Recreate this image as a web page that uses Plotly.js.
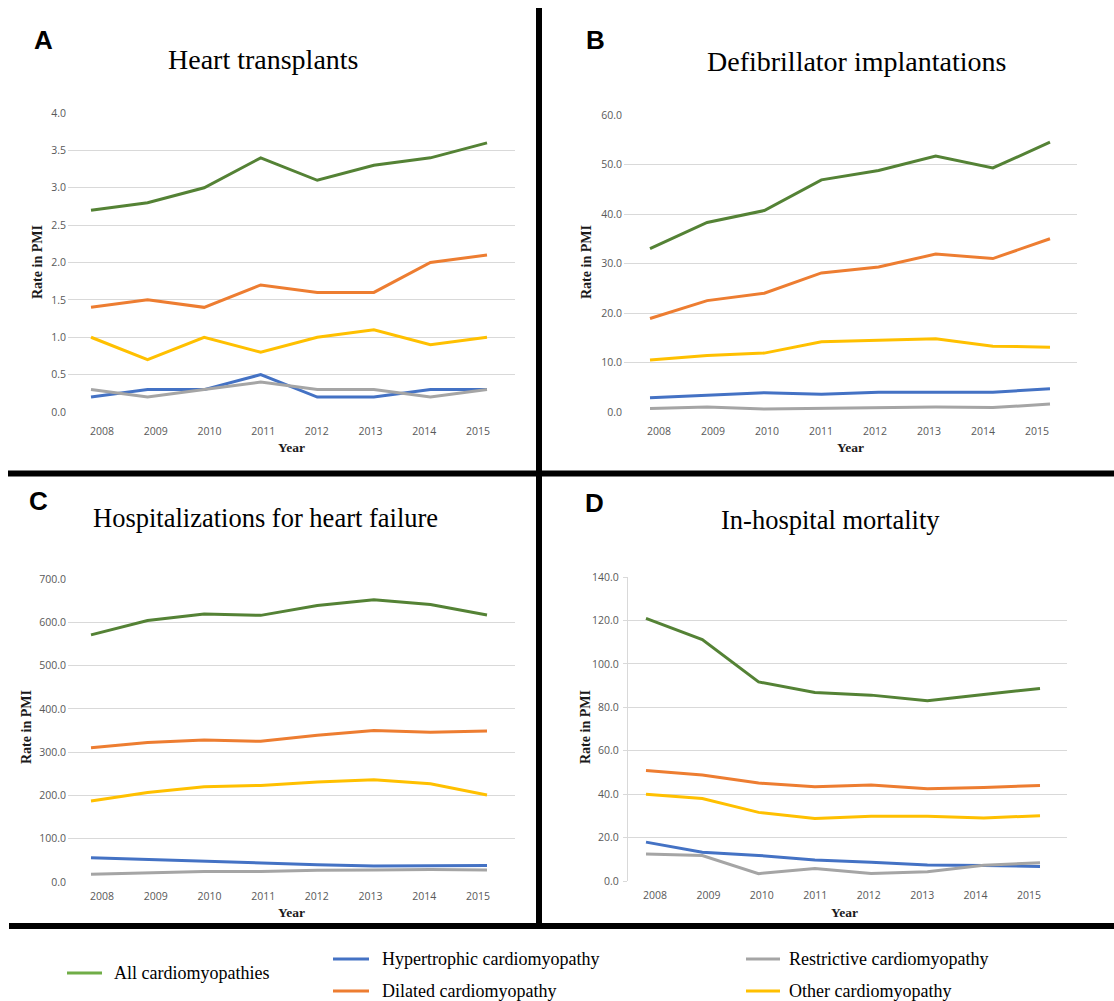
<!DOCTYPE html>
<html><head><meta charset="utf-8">
<script src="https://cdn.plot.ly/plotly-3.0.1.min.js"></script>
<style>html,body{margin:0;padding:0;background:#fff;overflow:hidden;} #chart{width:1114px;height:1001px;}</style>
</head><body><div id="chart"></div>
<script>
// ---------- DATA ----------
const years = [2008, 2009, 2010, 2011, 2012, 2013, 2014, 2015];
const yearLabels = ['2008', '2009', '2010', '2011', '2012', '2013', '2014', '2015'];
const seriesNames = ['All cardiomyopathies', 'Hypertrophic cardiomyopathy', 'Dilated cardiomyopathy', 'Restrictive cardiomyopathy', 'Other cardiomyopathy'];
const panelTitles = ['Heart transplants', 'Defibrillator implantations', 'Hospitalizations for heart failure', 'In-hospital mortality'];
const panelLetters = ['A', 'B', 'C', 'D'];

// A: Heart transplants
const transplantAll = [2.7, 2.8, 3.0, 3.4, 3.1, 3.3, 3.4, 3.6];
const transplantHyp = [0.2, 0.3, 0.3, 0.5, 0.2, 0.2, 0.3, 0.3];
const transplantDil = [1.4, 1.5, 1.4, 1.7, 1.6, 1.6, 2.0, 2.1];
const transplantRes = [0.3, 0.2, 0.3, 0.4, 0.3, 0.3, 0.2, 0.3];
const transplantOth = [1.0, 0.7, 1.0, 0.8, 1.0, 1.1, 0.9, 1.0];
// B: Defibrillator implantations
const defibAll = [33.0, 38.3, 40.7, 46.9, 48.8, 51.7, 49.3, 54.5];
const defibHyp = [2.9, 3.4, 3.9, 3.6, 4.0, 4.0, 4.0, 4.7];
const defibDil = [18.9, 22.5, 24.0, 28.1, 29.3, 31.9, 31.0, 35.0];
const defibRes = [0.7, 1.0, 0.6, 0.7, 0.9, 1.0, 0.9, 1.6];
const defibOth = [10.5, 11.4, 11.9, 14.2, 14.5, 14.8, 13.3, 13.1];
// C: Hospitalizations for heart failure
const hospAll = [571, 604, 619, 616, 639, 652, 641, 617];
const hospHyp = [56, 52, 47, 43, 40, 37, 37, 38];
const hospDil = [310, 322, 328, 325, 339, 350, 346, 349];
const hospRes = [18, 21, 24, 24, 27, 28, 29, 28];
const hospOth = [187, 207, 220, 223, 231, 236, 227, 201];
// D: In-hospital mortality
const mortAll = [120.9, 111.2, 91.7, 86.8, 85.6, 83.0, 85.9, 88.7];
const mortHyp = [17.9, 13.2, 11.8, 9.7, 8.6, 7.4, 7.1, 6.7];
const mortDil = [50.9, 48.8, 45.1, 43.4, 44.2, 42.5, 43.1, 44.0];
const mortRes = [12.4, 11.7, 3.4, 5.8, 3.5, 4.3, 7.2, 8.4];
const mortOth = [40.0, 38.0, 31.6, 28.8, 29.8, 29.8, 29.0, 30.1];

const panelSeries = [
  [transplantAll, transplantHyp, transplantDil, transplantRes, transplantOth],
  [defibAll, defibHyp, defibDil, defibRes, defibOth],
  [hospAll, hospHyp, hospDil, hospRes, hospOth],
  [mortAll, mortHyp, mortDil, mortRes, mortOth]
];
const yMax = [4, 60, 700, 140];
const yStep = [0.5, 10, 100, 20];

// ---------- STYLE / GEOMETRY ----------
const W = 1114, H = 1001;
const px = v => v / W;
const py = v => 1 - v / H;
const colors = ['#548235', '#4472c4', '#ed7d31', '#a5a5a5', '#ffc000'];
const keyColors = ['#70ad47', '#4472c4', '#ed7d31', '#a5a5a5', '#ffc000'];
const serif = 'Liberation Serif, Times New Roman, serif';
const sans = 'Open Sans, Noto Sans, sans-serif';

// per panel pixel geometry: plot left/right, top/bottom, first/last data x, first/last label x
const geo = [
  {l: 68, r: 515, t: 113, b: 412, d0: 91, d1: 487, t0: 102, t1: 478, std: 11},
  {l: 624, r: 1077, t: 115, b: 412, d0: 650, d1: 1050, t0: 659, t1: 1037, std: 11},
  {l: 68, r: 515, t: 579, b: 882, d0: 91, d1: 487, t0: 102, t1: 478, std: 6},
  {l: 628, r: 1067, t: 577, b: 881, d0: 646, d1: 1040, t0: 655, t1: 1029, std: 6}
];
const titlePos = [[263, 59, 28], [856, 61, 28], [265, 518, 26.5], [830, 520, 26.5]];
const letterPos = [[43, 40], [595, 40], [38, 501], [594, 503]];
const yTitlePos = [[37, 262], [586, 262], [26, 727], [585, 727]];
const xTitlePos = [[291, 447], [850, 448], [291, 912], [844, 912]];
// legend keys: [line x0, line x1, text x, y]
const keyPos = [[67, 102, 112, 973], [333, 369, 380, 959], [333, 369, 380, 991], [746, 780, 787, 959], [746, 780, 787, 991]];

const traces = [];
const layout = {
  width: W, height: H,
  margin: {l: 0, r: 0, t: 0, b: 0},
  paper_bgcolor: '#fff', plot_bgcolor: 'rgba(0,0,0,0)',
  showlegend: false,
  annotations: [], shapes: []
};

geo.forEach((g, p) => {
  const sfx = p === 0 ? '' : String(p + 1);
  const s = (g.d1 - g.d0) / (years.length - 1);
  const r0 = years[0] - (g.d0 - g.l) / s;
  const r1 = years[years.length - 1] + (g.r - g.d1) / s;
  const ls = (g.t1 - g.t0) / (years.length - 1);
  const tickvals = years.map((y, i) => years[0] + (g.t0 + i * ls - g.d0) / s);

  layout['xaxis' + sfx] = {
    domain: [px(g.l), px(g.r)], range: [r0, r1], anchor: 'y' + sfx,
    tickvals: tickvals, ticktext: yearLabels,
    showgrid: false, zeroline: false, showline: false, ticks: '',
    ticklabelstandoff: g.std,
    tickfont: {family: sans, size: 10.5, color: '#595959'}, fixedrange: true
  };
  layout['yaxis' + sfx] = {
    domain: [py(g.b), py(g.t)], range: [0, yMax[p]], dtick: yStep[p], tick0: 0,
    tickformat: '.1f', anchor: 'x' + sfx,
    showgrid: true, gridcolor: '#d9d9d9', gridwidth: 1.3, zeroline: false,
    showline: p === 3, linecolor: '#d9d9d9', linewidth: 1.3,
    ticks: p === 3 ? 'outside' : '', ticklen: 4, tickcolor: '#d9d9d9',
    ticklabelstandoff: p === 3 ? 2 : 1,
    tickfont: {family: sans, size: 10.5, color: '#595959'}, fixedrange: true
  };

  panelSeries[p].forEach((vals, k) => {
    traces.push({
      type: 'scatter', mode: 'lines', x: years, y: vals,
      name: seriesNames[k], showlegend: false,
      line: {color: colors[k], width: 3},
      xaxis: 'x' + sfx, yaxis: 'y' + sfx, hoverinfo: 'skip'
    });
  });

  layout.annotations.push({
    text: panelTitles[p], xref: 'paper', yref: 'paper',
    x: px(titlePos[p][0]), y: py(titlePos[p][1]), xanchor: 'center', yanchor: 'middle',
    showarrow: false, font: {family: serif, size: titlePos[p][2], color: '#000'}
  });
  layout.annotations.push({
    text: '<b>' + panelLetters[p] + '</b>', xref: 'paper', yref: 'paper',
    x: px(letterPos[p][0]), y: py(letterPos[p][1]), xanchor: 'center', yanchor: 'middle',
    showarrow: false, font: {family: 'Liberation Sans, Arial, sans-serif', size: 26, color: '#000'}
  });
  layout.annotations.push({
    text: '<b>Rate in PMI</b>', xref: 'paper', yref: 'paper', textangle: -90,
    x: px(yTitlePos[p][0]), y: py(yTitlePos[p][1]), xanchor: 'center', yanchor: 'middle',
    showarrow: false, font: {family: serif, size: 14, color: '#1a1a1a'}
  });
  layout.annotations.push({
    text: '<b>Year</b>', xref: 'paper', yref: 'paper',
    x: px(xTitlePos[p][0]), y: py(xTitlePos[p][1]), xanchor: 'center', yanchor: 'middle',
    showarrow: false, font: {family: serif, size: 13.5, color: '#1a1a1a'}
  });
});

// separator lines
layout.shapes.push(
  {type: 'line', xref: 'paper', yref: 'paper', x0: px(539), x1: px(539), y0: py(8), y1: py(926), line: {color: '#000', width: 6}},
  {type: 'line', xref: 'paper', yref: 'paper', x0: px(8), x1: px(1114), y0: py(473.5), y1: py(473.5), line: {color: '#000', width: 6}},
  {type: 'line', xref: 'paper', yref: 'paper', x0: px(9), x1: px(1114), y0: py(926), y1: py(926), line: {color: '#000', width: 6}}
);

// legend (keys + labels)
seriesNames.forEach((name, k) => {
  const kp = keyPos[k];
  layout.shapes.push({type: 'line', xref: 'paper', yref: 'paper',
    x0: px(kp[0]), x1: px(kp[1]), y0: py(kp[3]), y1: py(kp[3]), line: {color: keyColors[k], width: 3}});
  layout.annotations.push({text: name, xref: 'paper', yref: 'paper',
    x: px(kp[2]), y: py(kp[3]), xanchor: 'left', yanchor: 'middle', showarrow: false,
    font: {family: serif, size: 18, color: '#000'}});
});

Plotly.newPlot('chart', traces, layout, {displayModeBar: false, staticPlot: false, responsive: false});
</script></body></html>
